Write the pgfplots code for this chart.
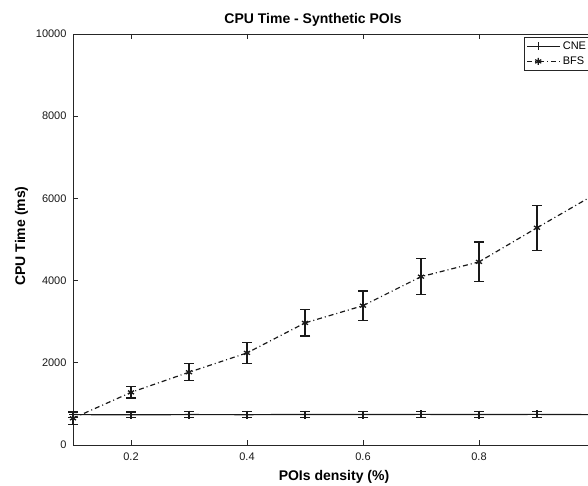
\documentclass[border=0pt]{standalone}
\usepackage{fontspec}
\setmainfont{Liberation Sans}
\usepackage{pgfplots}
\pgfplotsset{compat=1.18}
\begin{document}
\begin{tikzpicture}
\useasboundingbox (0bp,0bp) rectangle (588bp,486bp);
\clip (0bp,0bp) rectangle (588bp,486bp);
\begin{axis}[
  at={(73bp,41bp)}, anchor=south west,
  scale only axis, width=522bp, height=411bp,
  xmin=0.1, xmax=1.0, ymin=0, ymax=10000,
  xtick={0.2,0.4,0.6,0.8}, ytick={0,2000,4000,6000,8000,10000},
  tick align=inside, major tick length=5bp,
  scaled y ticks=false, scaled x ticks=false,
  /pgf/number format/assume math mode=true,
  /pgf/number format/1000 sep={},
  tick label style={font=\fontsize{11bp}{13bp}\selectfont, black!90},
  yticklabel style={xshift=-3bp},
  xticklabel style={yshift=-4bp},
  axis line style={black!85, line width=0.8bp},
  every tick/.style={black!85, line width=0.8bp},
  clip=false,
  legend style={at={(0.992,0.993)}, anchor=north east, font=\fontsize{11bp}{13bp}\selectfont,
    draw=black!85, line width=0.6bp, inner sep=2.5bp, row sep=2bp, cells={anchor=west}},
  legend image code/.code={\path (0bp,0bp) -- (33bp,0bp);\draw[mark repeat=2,mark phase=2,#1] plot coordinates {(0bp,0bp) (11bp,0bp) (22bp,0bp)};},
]
\addplot[black!90, line width=1.2bp, mark=+, mark size=4bp,
  error bars/.cd, y dir=both, y explicit,
  error mark options={rotate=90, mark size=5bp, line width=1.3bp, black!90},
  error bar style={line width=1.3bp, black!90}]
coordinates {
 (0.1,740) +- (0,70)
 (0.2,735) +- (0,70)
 (0.3,740) +- (0,70)
 (0.4,738) +- (0,70)
 (0.5,742) +- (0,70)
 (0.6,740) +- (0,70)
 (0.7,745) +- (0,70)
 (0.8,742) +- (0,70)
 (0.9,745) +- (0,70)
 (1.0,738) +- (0,70)
};
\addlegendentry{CNE}
\addplot[black!90, line width=1.2bp, dash pattern=on 5bp off 3bp on 1bp off 3bp,
  mark=asterisk, mark size=3.5bp, mark options={solid, line width=1.3bp},
  error bars/.cd, y dir=both, y explicit,
  error mark options={rotate=90, mark size=5bp, line width=1.3bp, black!90, solid},
  error bar style={line width=1.3bp, black!90, solid}]
coordinates {
 (0.1,650) +- (0,150)
 (0.2,1280) +- (0,140)
 (0.3,1770) +- (0,205)
 (0.4,2240) +- (0,255)
 (0.5,2970) +- (0,320)
 (0.6,3390) +- (0,355)
 (0.7,4095) +- (0,440)
 (0.8,4455) +- (0,485)
 (0.9,5285) +- (0,550)
 (1.0,6100) +- (0,600)
};
\addlegendentry{BFS}
\end{axis}
\node[font=\bfseries\fontsize{14bp}{16bp}\selectfont, anchor=base] at (313bp,462bp) {CPU Time - Synthetic POIs};
\node[font=\bfseries\fontsize{14bp}{16bp}\selectfont, anchor=base] at (334bp,6bp) {POIs density (\%)};
\node[font=\bfseries\fontsize{14bp}{16bp}\selectfont, anchor=base, rotate=90] at (25bp,250bp) {CPU Time (ms)};
\end{tikzpicture}
\end{document}
